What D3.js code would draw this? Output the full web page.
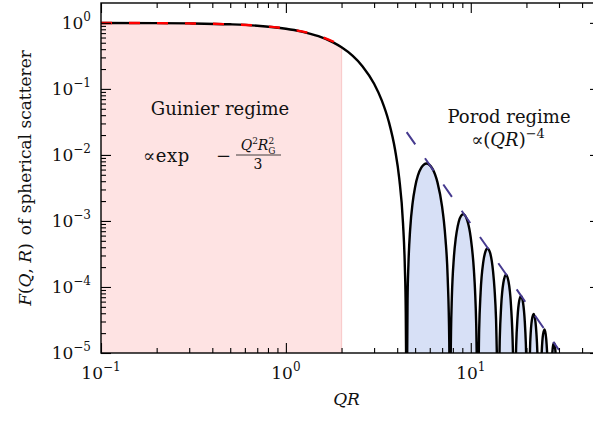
<!DOCTYPE html>
<html>
<head>
<meta charset="utf-8">
<script src="https://cdn.jsdelivr.net/npm/d3@7"></script>
<style>
  body { margin: 0; background: #fff; }
  svg { display: block; overflow: hidden; }
  text { font-family: "DejaVu Serif", serif; fill: #111; }
</style>
</head>
<body>
<div id="chart"></div>
<script>
// sphere form factor
const qr = [0.1, 0.2, 0.3, 0.5, 0.7, 1.0, 1.2, 1.5, 1.8, 2.0, 2.3, 2.6, 3.0, 3.3, 3.6, 3.9, 4.1, 4.3, 4.4, 4.45, 4.48,
  4.50, 4.55, 4.6, 4.7, 4.85, 5.0, 5.4, 5.76, 6.2, 6.6, 7.0, 7.15, 7.3, 7.5, 7.65, 7.70,
  7.78, 7.82, 7.9, 8.1, 8.3, 8.5, 9.0, 9.1, 9.6, 10.0, 10.4, 10.55, 10.7, 10.8,
  11.0, 11.1, 11.3, 11.7, 12.0, 12.3, 12.7, 13.2, 13.45, 13.7, 13.9,
  14.2, 14.35, 14.6, 15.0, 15.5, 16.0, 16.5, 16.9, 17.05,
  17.4, 17.6, 17.9, 18.3, 18.7, 19.2, 19.6, 19.85, 20.0,
  20.7, 21.0, 21.4, 21.9, 22.4, 22.8, 22.95, 23.1,
  23.9, 24.2, 24.6, 25.1, 25.6, 25.85, 26.0,
  27.35, 27.6, 27.9, 28.2, 28.5, 28.8, 29.2];
const fqr = [0.998, 0.992, 0.982, 0.951, 0.906, 0.816, 0.745, 0.628, 0.506, 0.4265, 0.3155, 0.2193, 0.1195, 0.0670, 0.0321, 0.01175, 0.00449, 0.000928, 0.000199, 4.12e-5, 3.55e-6,
  8.8e-7, 6.19e-5, 2.17e-4, 7.41e-4, 1.90e-3, 3.26e-3, 6.40e-3, 7.43e-3, 6.21e-3, 3.87e-3, 1.63e-3, 1.01e-3, 5.32e-4, 1.40e-4, 1.47e-5, 1.7e-6,
  7.2e-6, 2.12e-5, 6.87e-5, 2.76e-4, 5.53e-4, 8.35e-4, 1.256e-3, 1.268e-3, 9.90e-4, 5.54e-4, 1.78e-4, 8.66e-5, 2.78e-5, 7.1e-6,
  5.6e-6, 2.23e-5, 8.15e-5, 2.44e-4, 3.43e-4, 3.82e-4, 3.33e-4, 1.72e-4, 9.15e-5, 3.26e-5, 6.6e-6,
  3.9e-6, 1.66e-5, 5.10e-5, 1.147e-4, 1.534e-4, 1.213e-4, 5.28e-5, 1.10e-5, 3.1e-6,
  3.1e-6, 1.28e-5, 3.45e-5, 6.23e-5, 7.31e-5, 5.62e-5, 2.96e-5, 1.43e-5, 7.4e-6,
  5.1e-6, 1.60e-5, 3.15e-5, 3.91e-5, 2.89e-5, 1.44e-5, 9.4e-6, 5.2e-6,
  3.8e-6, 1.04e-5, 1.91e-5, 2.27e-5, 1.61e-5, 1.07e-5, 7.5e-6,
  6.4e-6, 1.00e-5, 1.32e-5, 1.42e-5, 1.28e-5, 9.4e-6, 4.1e-6];

// Guinier approximation
const guinierQR = [0.1, 0.2, 0.3, 0.5, 0.7, 1.0, 1.2, 1.5, 1.8, 2.0];
const guinierF = [0.998, 0.992, 0.982, 0.951, 0.907, 0.819, 0.750, 0.638, 0.523, 0.449];

// Porod envelope
const porodQR = [4.5, 30];
const porodF = [0.0222, 1.11e-5];

const guinierEnd = 2.0;
const porodStart = 4.48;

const xTickExp = [-1, 0, 1];
const yTickExp = [0, -1, -2, -3, -4, -5];

const width = 593, height = 425;
const margins = { top: 3, right: -7, bottom: 72, left: 101 };
const innerWidth = width - margins.left - margins.right;
const innerHeight = height - margins.top - margins.bottom;

const svg = d3.select('#chart').append('svg')
    .attr('width', width)
    .attr('height', height);

const g = svg.append('g')
    .attr('transform', `translate(${margins.left}, ${margins.top})`);

const x = d3.scaleLog().domain([0.1, 50]).range([0, innerWidth]);
const y = d3.scaleLog().domain([1e-5, 2]).range([innerHeight, 0]);

g.append('clipPath').attr('id', 'clip')
  .append('rect')
    .attr('width', innerWidth)
    .attr('height', innerHeight);

const curve = qr.map((q, i) => ({ q: q, f: fqr[i] }));
const guinier = guinierQR.map((q, i) => ({ q: q, f: guinierF[i] }));
const porod = porodQR.map((q, i) => ({ q: q, f: porodF[i] }));

const line = d3.line()
    .x(d => x(d.q))
    .y(d => y(d.f))
    .curve(d3.curveMonotoneX);
const area = d3.area()
    .x(d => x(d.q))
    .y0(innerHeight)
    .y1(d => y(d.f))
    .curve(d3.curveMonotoneX);

const plot = g.append('g').attr('clip-path', 'url(#clip)');

plot.append('path')
    .datum(curve.filter(d => d.q <= guinierEnd))
    .attr('d', area)
    .attr('fill', '#fee3e3')
    .attr('stroke', 'none');
plot.append('line')
    .attr('x1', x(guinierEnd)).attr('x2', x(guinierEnd))
    .attr('y1', y(fqr[qr.indexOf(guinierEnd)])).attr('y2', innerHeight)
    .attr('stroke', '#f9cccc')
    .attr('stroke-width', 1.2);

plot.append('path')
    .datum(curve.filter(d => d.q >= porodStart))
    .attr('d', area)
    .attr('fill', '#d7e0f6')
    .attr('stroke', 'none');

plot.append('path')
    .datum(curve)
    .attr('d', line)
    .attr('fill', 'none')
    .attr('stroke', '#000')
    .attr('stroke-width', 2.4);

plot.append('path')
    .datum(guinier)
    .attr('d', line)
    .attr('fill', 'none')
    .attr('stroke', '#f00')
    .attr('stroke-width', 2.4)
    .attr('stroke-dasharray', '11,17');

plot.append('path')
    .datum(porod)
    .attr('d', d3.line().x(d => x(d.q)).y(d => y(d.f)))
    .attr('fill', 'none')
    .attr('stroke', '#463a8f')
    .attr('stroke-width', 2)
    .attr('stroke-dasharray', '15,17');

// ticks on all four sides, pointing inward
const xMinor = [];
d3.range(-1, 2).forEach(e => d3.range(2, 10).forEach(m => { if (m * 10 ** e < 50) xMinor.push(m * 10 ** e); }));
const yMinor = [];
d3.range(-5, 1).forEach(e => d3.range(2, 10).forEach(m => { if (m * 10 ** e < 2) yMinor.push(m * 10 ** e); }));
const xMajor = xTickExp.map(e => 10 ** e);
const yMajor = yTickExp.map(e => 10 ** e);

const tickAxis = (axisFn, scale, values, size, tr) => {
  const a = g.append('g')
      .attr('class', 'tick-axis')
      .attr('transform', tr)
      .call(axisFn(scale).tickValues(values).tickSize(size).tickFormat(''));
  a.select('.domain').remove();
  a.selectAll('text').remove();
  a.selectAll('line').attr('stroke', '#000').attr('stroke-width', 1.1);
};

tickAxis(d3.axisBottom, x, xMajor, -10, `translate(0,${innerHeight})`);
tickAxis(d3.axisBottom, x, xMinor, -5, `translate(0,${innerHeight})`);
tickAxis(d3.axisTop, x, xMajor, -10, 'translate(0,0)');
tickAxis(d3.axisTop, x, xMinor, -5, 'translate(0,0)');
tickAxis(d3.axisLeft, y, yMajor, -10, 'translate(0,0)');
tickAxis(d3.axisLeft, y, yMinor, -5, 'translate(0,0)');
tickAxis(d3.axisRight, y, yMajor, -10, `translate(${innerWidth},0)`);
tickAxis(d3.axisRight, y, yMinor, -5, `translate(${innerWidth},0)`);

g.append('rect')
    .attr('width', innerWidth)
    .attr('height', innerHeight)
    .attr('fill', 'none')
    .attr('stroke', '#000')
    .attr('stroke-width', 1.4);

// tick labels: "10" and its exponent as two separate texts
// anchor: 'middle' centres the pair on px, 'end' ends it at px
const powerLabel = (px, py, e, anchor) => {
  const lab = g.append('g').attr('class', 'power-label');
  const base = lab.append('text')
      .attr('y', py)
      .attr('font-size', 17)
      .text('10');
  const sup = lab.append('text')
      .attr('y', py - 8)
      .attr('font-size', 12)
      .text(e < 0 ? `\u2212${-e}` : `${e}`);
  const wb = base.node().getComputedTextLength();
  const ws = sup.node().getComputedTextLength();
  const x0 = anchor === 'middle' ? px - (wb + ws) / 2 : px - wb - ws;
  base.attr('x', x0);
  sup.attr('x', x0 + wb);
};

xTickExp.forEach(e => powerLabel(x(10 ** e), innerHeight + 26, e, 'middle'));
yTickExp.forEach(e => powerLabel(-10, y(10 ** e) + 6, e, 'end'));

// axis titles
g.append('text')
    .attr('x', innerWidth / 2 - 4)
    .attr('y', innerHeight + 52)
    .attr('text-anchor', 'middle')
    .attr('font-size', 17)
    .attr('font-style', 'italic')
    .text('QR');

const yl = g.append('text')
    .attr('transform', `translate(-70, ${innerHeight / 2}) rotate(-90)`)
    .attr('text-anchor', 'middle')
    .attr('font-size', 17);
yl.append('tspan').attr('font-style', 'italic').text('F');
yl.append('tspan').text('(');
yl.append('tspan').attr('font-style', 'italic').text('Q');
yl.append('tspan').text(', ');
yl.append('tspan').attr('font-style', 'italic').text('R');
yl.append('tspan').text(')');
yl.append('tspan').attr('dx', 8).text('of spherical scatterer');

// Guinier annotation
svg.append('text')
    .attr('x', 220).attr('y', 115)
    .attr('text-anchor', 'middle')
    .attr('font-size', 18)
    .text('Guinier regime');
svg.append('text')
    .attr('x', 143).attr('y', 162)
    .attr('font-size', 18)
    .attr('letter-spacing', 0.6)
    .text('\u221dexp');
svg.append('text')
    .attr('x', 216).attr('y', 162)
    .attr('font-size', 18)
    .text('\u2212');
const num = svg.append('text')
    .attr('x', 258).attr('y', 150)
    .attr('text-anchor', 'middle')
    .attr('font-size', 14);
num.append('tspan').attr('font-style', 'italic').text('Q');
num.append('tspan').attr('font-size', 9).attr('dy', -6).text('2');
num.append('tspan').attr('font-style', 'italic').attr('dy', 6).text('R');
num.append('tspan').attr('font-size', 9).attr('dy', -6).text('2');
num.append('tspan').attr('font-size', 9).attr('dx', -6).attr('dy', 10).text('G');
svg.append('line')
    .attr('x1', 236).attr('x2', 281)
    .attr('y1', 155).attr('y2', 155)
    .attr('stroke', '#111')
    .attr('stroke-width', 0.8);
svg.append('text')
    .attr('x', 258).attr('y', 169)
    .attr('text-anchor', 'middle')
    .attr('font-size', 14)
    .text('3');

// Porod annotation
svg.append('text')
    .attr('x', 509).attr('y', 123)
    .attr('text-anchor', 'middle')
    .attr('font-size', 18)
    .text('Porod regime');
const por = svg.append('text')
    .attr('x', 508).attr('y', 146)
    .attr('text-anchor', 'middle')
    .attr('font-size', 18);
por.append('tspan').text('\u221d(');
por.append('tspan').attr('font-style', 'italic').text('QR');
por.append('tspan').text(')');
por.append('tspan').attr('font-size', 13).attr('dy', -8).text('\u22124');
</script>
</body>
</html>
